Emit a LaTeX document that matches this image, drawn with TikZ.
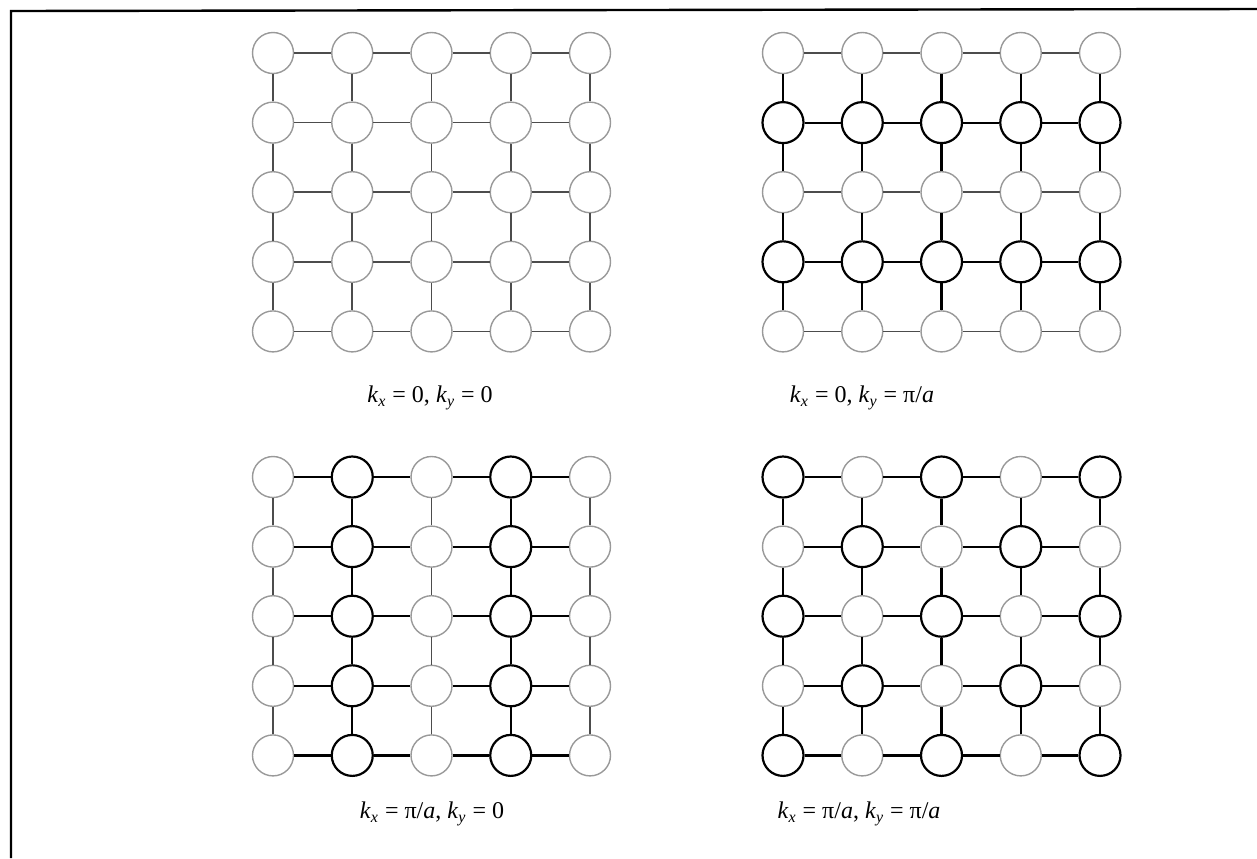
\documentclass[tikz,border=0pt]{standalone}
\usepackage{fontspec}
\setmainfont{Liberation Serif}

\tikzset{
  site/.style={circle, minimum size=20.5pt, inner sep=0pt, fill=white},
  light site/.style={site, draw=black!40, line width=0.7pt},
  dark site/.style={site, draw=black, line width=1.1pt},
  light bond/.style={draw=black!70, line width=0.8pt},
  dark bond/.style={draw=black, line width=1.1pt},
  caption/.style={font=\fontsize{12}{14}\selectfont}
}

% one 5x5 lattice: name, x and y of the first site, test for a dark site
\newcommand{\lattice}[4]{%
  % sites
  \foreach \r in {1,...,5}{
    \foreach \c in {1,...,5}{
      \pgfmathtruncatemacro{\dk}{#4}
      \expandafter\xdef\csname dk#1\r\c\endcsname{\dk}
      \ifnum\dk=1
        \node[dark site] (#1-\r-\c) at ({#2+(\c-1)*79.25},{#3+(\r-1)*69.6}) {};
      \else
        \node[light site] (#1-\r-\c) at ({#2+(\c-1)*79.25},{#3+(\r-1)*69.6}) {};
      \fi
    }
  }
  % horizontal bonds
  \foreach \r in {1,...,5}{
    \foreach \c [evaluate=\c as \n using int(\c+1)] in {1,...,4}{
      \pgfmathtruncatemacro{\bd}{\csname dk#1\r\c\endcsname+\csname dk#1\r\n\endcsname}
      \ifnum\bd>0 \draw[dark bond] (#1-\r-\c) -- (#1-\r-\n);
      \else \draw[light bond] (#1-\r-\c) -- (#1-\r-\n); \fi
    }
  }
  % vertical bonds
  \foreach \r [evaluate=\r as \n using int(\r+1)] in {1,...,4}{
    \foreach \c in {1,...,5}{
      \pgfmathtruncatemacro{\bd}{\csname dk#1\r\c\endcsname+\csname dk#1\n\c\endcsname}
      \ifnum\bd>0 \draw[dark bond] (#1-\r-\c) -- (#1-\n-\c);
      \else \draw[light bond] (#1-\r-\c) -- (#1-\n-\c); \fi
    }
  }
}

\begin{document}
\begin{tikzpicture}[x=0.5pt, y=-0.5pt]
  \useasboundingbox (0,0) rectangle (1257,858);

  % Frame (top and left edges only)
  \draw[line width=1.2pt] (11,858) -- (11,11) -- (1257,9);

  % Lattices
  \lattice{A}{273}{53}{0}
  \lattice{B}{783}{53}{mod(\r,2)==0}
  \lattice{C}{273}{477}{mod(\c,2)==0}
  \lattice{D}{783}{477}{mod(\r+\c,2)==0}

  % Captions
  \node[caption] (capA) at (430,398)
    {\textit{k}\textsubscript{\textit{x}} = 0, \textit{k}\textsubscript{\textit{y}} = 0};
  \node[caption] (capB) at (862,398)
    {\textit{k}\textsubscript{\textit{x}} = 0, \textit{k}\textsubscript{\textit{y}} = π/\textit{a}};
  \node[caption] (capC) at (432,814)
    {\textit{k}\textsubscript{\textit{x}} = π/\textit{a}, \textit{k}\textsubscript{\textit{y}} = 0};
  \node[caption] (capD) at (859,814)
    {\textit{k}\textsubscript{\textit{x}} = π/\textit{a}, \textit{k}\textsubscript{\textit{y}} = π/\textit{a}};
\end{tikzpicture}
\end{document}
